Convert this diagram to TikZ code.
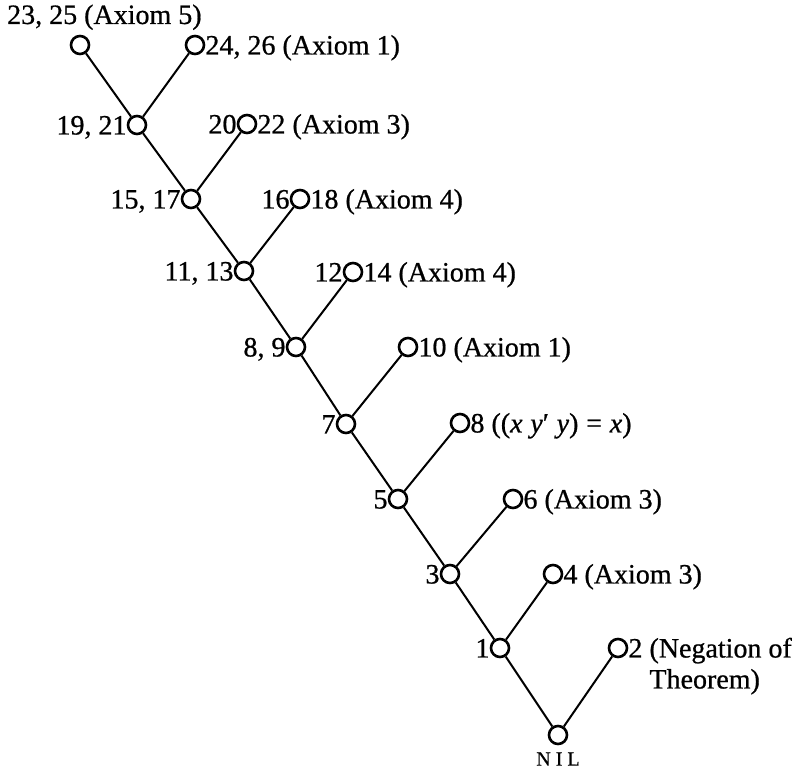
\documentclass[tikz,border=0pt]{standalone}
\usepackage{fontspec}
\setmainfont{Liberation Serif}[FakeBold=0.7]
\begin{document}
\begin{tikzpicture}[x=1pt,y=1pt,
  vtx/.style={circle,draw,line width=2.6pt,minimum size=18pt,inner sep=0pt},
  edge/.style={line width=2pt},
  lab/.style={inner sep=0pt,font=\fontsize{28}{31}\selectfont},
  rlab/.style={lab,anchor=base west},
  llab/.style={lab,anchor=base east}]
\useasboundingbox (0,0) rectangle (806,770);
% resolution tree, y measured downward from the top edge
\newcommand{\pt}[2]{(#1,{770-#2})}
\node[vtx] (n23) at \pt{80}{45} {};
\node[vtx] (n24) at \pt{195}{45} {};
\node[vtx] (n19) at \pt{137}{125} {};
\node[vtx] (n20) at \pt{247}{124} {};
\node[vtx] (n15) at \pt{191}{199} {};
\node[vtx] (n16) at \pt{300}{199} {};
\node[vtx] (n11) at \pt{244}{271} {};
\node[vtx] (n12) at \pt{353}{272} {};
\node[vtx] (n8l) at \pt{296}{347} {};
\node[vtx] (n10) at \pt{408}{347} {};
\node[vtx] (n7) at \pt{346}{424} {};
\node[vtx] (n8r) at \pt{460}{423} {};
\node[vtx] (n5) at \pt{398}{499} {};
\node[vtx] (n6) at \pt{513}{499} {};
\node[vtx] (n3) at \pt{450}{574} {};
\node[vtx] (n4) at \pt{553}{574} {};
\node[vtx] (n1) at \pt{500}{648} {};
\node[vtx] (n2) at \pt{618}{648} {};
\node[vtx] (nil) at \pt{558}{735} {};

% main branch
\draw[edge] (n23) -- (n19) -- (n15) -- (n11) -- (n8l) -- (n7) -- (n5) -- (n3) -- (n1) -- (nil);
% side clauses
\draw[edge] (n24) -- (n19);
\draw[edge] (n20) -- (n15);
\draw[edge] (n16) -- (n11);
\draw[edge] (n12) -- (n8l);
\draw[edge] (n10) -- (n7);
\draw[edge] (n8r) -- (n5);
\draw[edge] (n6) -- (n3);
\draw[edge] (n4) -- (n1);
\draw[edge] (n2) -- (nil);

% labels
\node[rlab] (t23) at \pt{7}{24} {23, 25 (Axiom 5)};
\node[rlab] (t24) at ([yshift=-9.5pt]n24.east) {24, 26 (Axiom 1)};
\node[llab] (t19) at ([yshift=-9.5pt]n19.west) {19, 21};
\node[llab] (t20a) at ([yshift=-9.5pt]n20.west) {20};
\node[rlab] (t20b) at ([yshift=-9.5pt]n20.east) {22 (Axiom 3)};
\node[llab] (t15) at ([yshift=-9.5pt]n15.west) {15, 17};
\node[llab] (t16a) at ([yshift=-9.5pt]n16.west) {16};
\node[rlab] (t16b) at ([yshift=-9.5pt]n16.east) {18 (Axiom 4)};
\node[llab] (t11) at ([yshift=-9.5pt]n11.west) {11, 13};
\node[llab] (t12a) at ([yshift=-9.5pt]n12.west) {12};
\node[rlab] (t12b) at ([yshift=-9.5pt]n12.east) {14 (Axiom 4)};
\node[llab] (t8l) at ([yshift=-9.5pt]n8l.west) {8, 9};
\node[rlab] (t10) at ([yshift=-9.5pt]n10.east) {10 (Axiom 1)};
\node[llab] (t7) at ([yshift=-9.5pt]n7.west) {7};
\node[rlab] (t8r) at ([yshift=-9.5pt]n8r.east) {8 ((\textit{x}\;\textit{y}′\;\textit{y})\;=\;\textit{x})};
\node[llab] (t5) at ([yshift=-9.5pt]n5.west) {5};
\node[rlab] (t6) at ([yshift=-9.5pt]n6.east) {6 (Axiom 3)};
\node[llab] (t3) at ([yshift=-9.5pt]n3.west) {3};
\node[rlab] (t4) at ([yshift=-9.5pt]n4.east) {4 (Axiom 3)};
\node[llab] (t1) at ([yshift=-9.5pt]n1.west) {1};
\node[rlab] (t2) at ([yshift=-9.5pt]n2.east) {2 \begin{tabular}[t]{@{}l@{}}(Negation of\\Theorem)\end{tabular}};
\node[inner sep=0pt,anchor=north,font=\fontsize{20}{22}\selectfont\addfontfeature{LetterSpace=25}] (tnil) at ([yshift=-7pt]nil.south) {NIL};
\end{tikzpicture}
\end{document}
